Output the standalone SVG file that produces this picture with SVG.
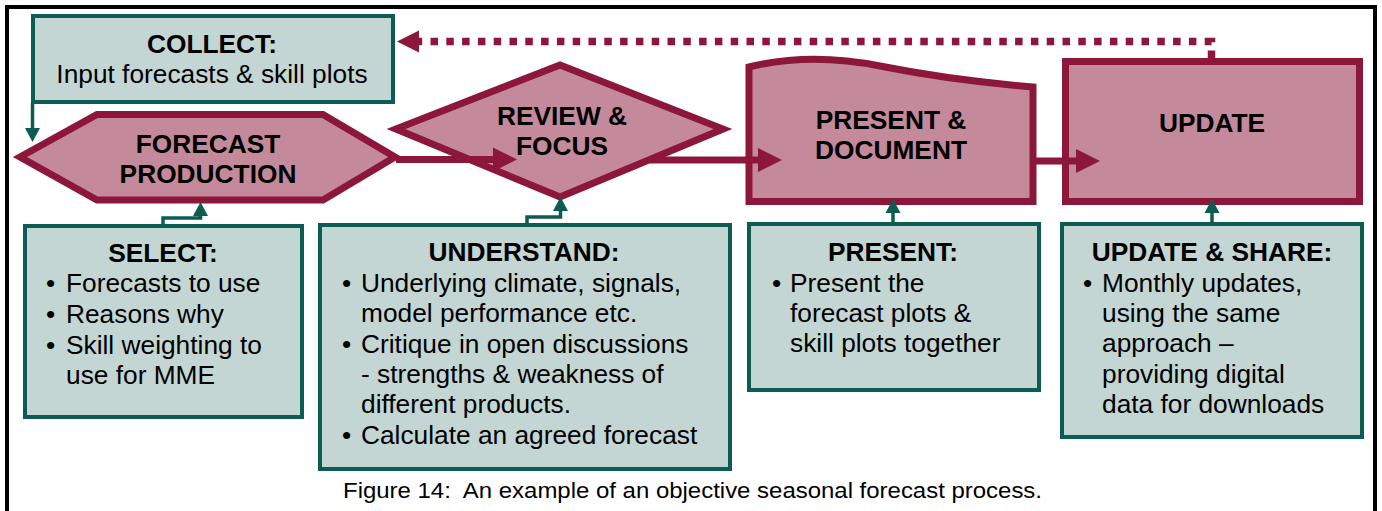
<svg xmlns="http://www.w3.org/2000/svg" width="1382" height="511" viewBox="0 0 1382 511">
<style>
.bg{fill:#ffffff}
.frame{fill:none;stroke:#000;stroke-width:4}
.proc{fill:#c4899a;stroke:#8c173b;stroke-width:7;stroke-linejoin:miter}
.info{fill:#c3d6d3;stroke:#0d5c52;stroke-width:4}
.flow{fill:none;stroke:#8c173b;stroke-width:7}
.dot{fill:none;stroke:#8c173b;stroke-width:7.5;stroke-dasharray:7.5 8.3}
.feed{fill:none;stroke:#0d5c52;stroke-width:3.5}
.t{font-family:"Liberation Sans",Arial,sans-serif;font-size:26.3px;fill:#000}
.b{font-weight:bold;text-anchor:middle}
.cap{font-family:"Liberation Sans",Arial,sans-serif;font-size:22px;fill:#000;white-space:pre}
</style>
<defs>
<marker id="ah" markerUnits="userSpaceOnUse" markerWidth="24" markerHeight="24" refX="1" refY="12" orient="auto" overflow="visible">
<path d="M0,0 L24,12 L0,24 Z" fill="#8c173b"/>
</marker>
<marker id="ahs" markerUnits="userSpaceOnUse" markerWidth="22" markerHeight="22" refX="1" refY="11" orient="auto" overflow="visible">
<path d="M0,0 L22,11 L0,22 Z" fill="#8c173b"/>
</marker>
<marker id="th" markerUnits="userSpaceOnUse" markerWidth="14" markerHeight="15" refX="1" refY="7.5" orient="auto" overflow="visible">
<path d="M0,0 L14,7.5 L0,15 Z" fill="#0d5c52"/>
</marker>
</defs>
<rect class="bg" x="0" y="0" width="1382" height="511"/>
<rect class="frame" x="7" y="7" width="1368" height="530"/>

<g id="collect">
<rect class="info" x="33" y="16" width="360" height="86"/>
<text class="t b" x="212" y="53">COLLECT:</text>
<text class="t" x="212" y="83" text-anchor="middle">Input forecasts &amp; skill plots</text>
</g>

<g id="forecast-production">
<polygon class="proc" points="20,157 97,114.5 323,114.5 395,157 323,200 97,200"/>
<text class="t b" x="208" y="153">FORECAST</text>
<text class="t b" x="208" y="183">PRODUCTION</text>
</g>

<g id="review-focus">
<polygon class="proc" points="396,129 560,65 723,129 560,197"/>
<text class="t b" x="562" y="125">REVIEW &amp;</text>
<text class="t b" x="562" y="155">FOCUS</text>
</g>

<g id="present-document">
<path class="proc" d="M749,67 Q810,52 880,66 T1033,87 L1033,201.5 L749,201.5 Z"/>
<text class="t b" x="891" y="129">PRESENT &amp;</text>
<text class="t b" x="891" y="159">DOCUMENT</text>
</g>

<g id="update">
<rect class="proc" x="1065.5" y="61.5" width="294" height="140"/>
<text class="t b" x="1212" y="132">UPDATE</text>
</g>

<g id="select">
<rect class="info" x="25" y="226" width="277" height="191"/>
<text class="t b" x="163" y="262">SELECT:</text>
<text class="t" x="46" y="292">•</text><text class="t" x="66" y="292">Forecasts to use</text>
<text class="t" x="46" y="323">•</text><text class="t" x="66" y="323">Reasons why</text>
<text class="t" x="46" y="354">•</text><text class="t" x="66" y="354">Skill weighting to</text>
<text class="t" x="66" y="384">use for MME</text>
</g>

<g id="understand">
<rect class="info" x="320" y="225" width="410" height="244"/>
<text class="t b" x="524" y="261">UNDERSTAND:</text>
<text class="t" x="342" y="292">•</text><text class="t" x="361" y="292">Underlying climate, signals,</text>
<text class="t" x="361" y="322">model performance etc.</text>
<text class="t" x="342" y="353">•</text><text class="t" x="361" y="353">Critique in open discussions</text>
<text class="t" x="361" y="383">- strengths &amp; weakness of</text>
<text class="t" x="361" y="413">different products.</text>
<text class="t" x="342" y="444">•</text><text class="t" x="361" y="444">Calculate an agreed forecast</text>
</g>

<g id="present">
<rect class="info" x="749" y="224" width="290" height="166"/>
<text class="t b" x="893" y="261">PRESENT:</text>
<text class="t" x="772" y="292">•</text><text class="t" x="790" y="292">Present the</text>
<text class="t" x="790" y="322">forecast plots &amp;</text>
<text class="t" x="790" y="352">skill plots together</text>
</g>

<g id="update-share">
<rect class="info" x="1062" y="224" width="300" height="213"/>
<text class="t b" x="1212" y="261">UPDATE &amp; SHARE:</text>
<text class="t" x="1083" y="292">•</text><text class="t" x="1102" y="292">Monthly updates,</text>
<text class="t" x="1102" y="322">using the same</text>
<text class="t" x="1102" y="352">approach –</text>
<text class="t" x="1102" y="383">providing digital</text>
<text class="t" x="1102" y="413">data for downloads</text>
</g>

<g id="connectors">
<path class="flow" d="M396,159.5 H494" marker-end="url(#ah)"/>
<path class="flow" d="M650,160 H759" marker-end="url(#ah)"/>
<path class="flow" d="M1036,161 H1077" marker-end="url(#ah)"/>
<path class="dot" d="M1211.5,58 V41.5 H418" marker-end="url(#ahs)"/>
<path class="feed" d="M32.5,103 V129" marker-end="url(#th)"/>
<path class="feed" d="M163,224 V218 H200.5 V215" marker-end="url(#th)"/>
<path class="feed" d="M527,223 V217 H560.5 V210" marker-end="url(#th)"/>
<path class="feed" d="M893,222 V212" marker-end="url(#th)"/>
<path class="feed" d="M1212,222 V212" marker-end="url(#th)"/>
</g>

<text class="cap" x="343" y="498" xml:space="preserve" textLength="699" lengthAdjust="spacingAndGlyphs">Figure 14:  An example of an objective seasonal forecast process.</text>
</svg>
